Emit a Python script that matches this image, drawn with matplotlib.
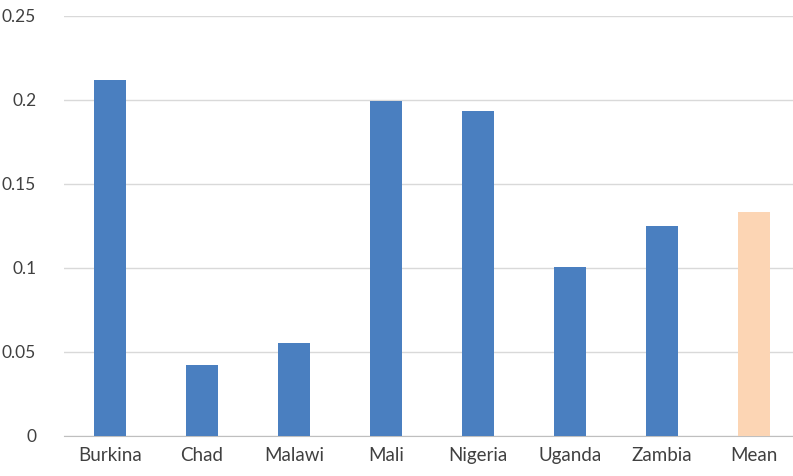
import matplotlib
matplotlib.use("Agg")
import matplotlib.pyplot as plt

categories = ["Burkina", "Chad", "Malawi", "Mali", "Nigeria", "Uganda", "Zambia", "Mean"]
values = [0.212, 0.0423, 0.0551, 0.1994, 0.1935, 0.1005, 0.1248, 0.1333]
colors = ["#4A7FC0"] * 7 + ["#FCD5B4"]
yticks = [0, 0.05, 0.1, 0.15, 0.2, 0.25]
yticklabels = ["0", "0.05", "0.1", "0.15", "0.2", "0.25"]

plt.rcParams['font.family'] = ['Lato', 'DejaVu Sans']
fig = plt.figure(figsize=(7.93, 4.76), dpi=100)
ax = fig.add_axes([64/793, 1 - 436/476, 736/793, 420/476])
x = range(len(categories))
ax.bar(x, values, width=0.35, color=colors, zorder=3)
ax.set_xlim(-0.5, len(categories) - 0.5)
ax.set_ylim(0, 0.25)
ax.set_yticks(yticks)
ax.set_yticklabels(yticklabels)
ax.set_xticks(list(x))
ax.set_xticklabels(categories)
ax.grid(axis='y', color='#D9D9D9', linewidth=1, zorder=0)
for s in ['top', 'right', 'left']:
    ax.spines[s].set_visible(False)
ax.spines['bottom'].set_color('#BFBFBF')
ax.tick_params(axis='both', length=0, colors='#404040')
ax.tick_params(axis='y', pad=20, labelsize=12.5)
ax.tick_params(axis='x', pad=8, labelsize=13.5)
for lbl in ax.get_yticklabels():
    lbl.set_horizontalalignment('right')
fig.savefig("out.png", dpi=100)
